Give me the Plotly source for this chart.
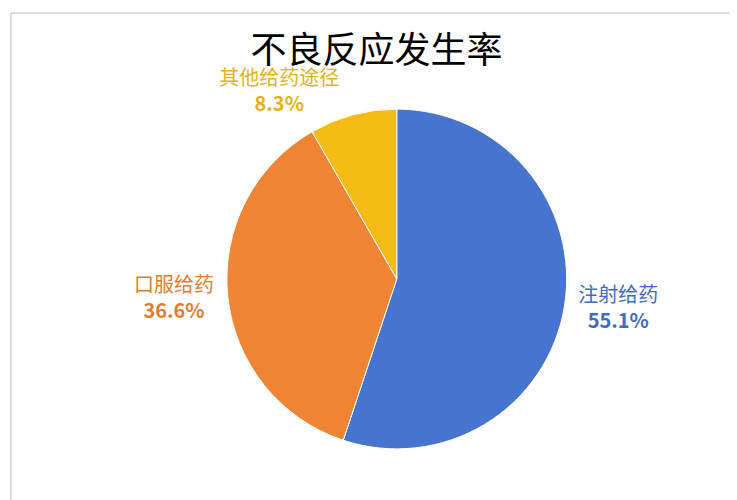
import plotly.graph_objects as go

labels = ["注射给药", "口服给药", "其他给药途径"]
values = [55.1, 36.6, 8.3]
colors = ["#4674CE", "#EE8434", "#F5BC16"]
text_colors = ["#3E6BC6", "#E47C30", "#E8B014"]

fig = go.Figure(go.Pie(
    labels=labels,
    values=values,
    sort=False,
    direction="clockwise",
    rotation=0,
    marker=dict(colors=colors, line=dict(color="white", width=1)),
    textposition="outside",
    texttemplate="%{label}<br><b>%{percent:.1%}</b>",
    outsidetextfont=dict(color=text_colors, size=20, family="Noto Sans CJK SC"),
    showlegend=False,
    domain=dict(x=[0.297, 0.758], y=[0.118, 0.798]),
))

fig.update_layout(
    width=737, height=500,
    margin=dict(l=0, r=0, t=0, b=0),
    paper_bgcolor="white",
    title=dict(text="不良反应发生率", x=0.5, y=0.94, xanchor="center",
               font=dict(size=36, color="black", family="Noto Sans CJK SC")),
    shapes=[dict(type="rect", xref="paper", yref="paper", x0=0.004, x1=0.99, y0=0.01, y1=0.99,
                 line=dict(color="#BBBBBB", width=1))],
)

fig.write_html("out.html")
